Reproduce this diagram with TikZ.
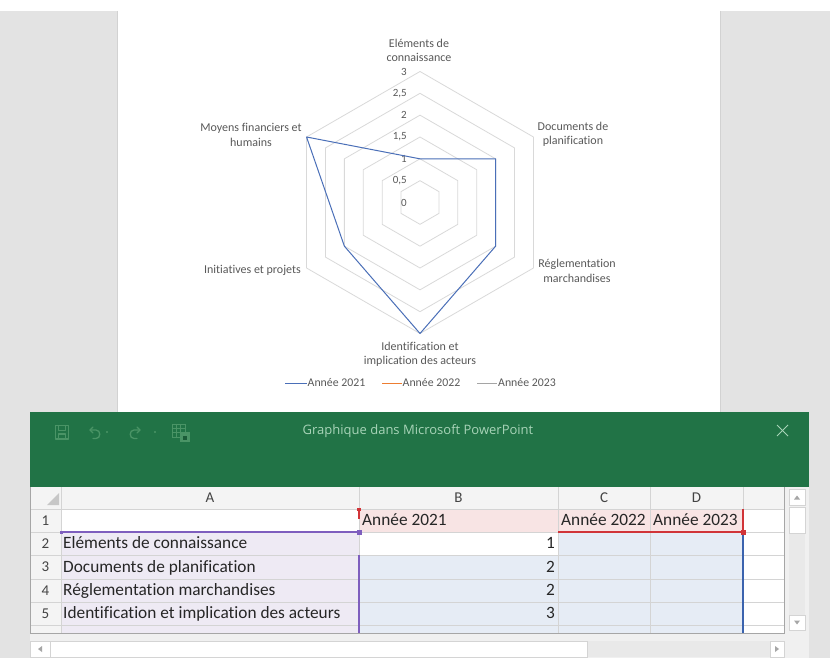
\documentclass[tikz,border=0pt]{standalone}
\usepackage{fontspec}
\setmainfont{Carlito}[Ligatures=NoCommon]
\newfontfamily\titlefont{Open Sans}
\usetikzlibrary{calc}
\definecolor{bggray}{HTML}{E3E3E3}
\definecolor{slideedge}{HTML}{D2D2D2}
\definecolor{gridc}{HTML}{D9D9D9}
\definecolor{sA}{HTML}{4A6FB8}
\definecolor{sB}{HTML}{ED7D31}
\definecolor{sC}{HTML}{A5A5A5}
\definecolor{labc}{HTML}{595959}
\definecolor{xlgreen}{HTML}{217346}
\definecolor{iconc}{HTML}{4A9466}
\definecolor{titlec}{HTML}{A8D4B8}
\definecolor{hdrbg}{HTML}{F4F4F4}
\definecolor{hdrtext}{HTML}{444444}
\definecolor{cellgrid}{HTML}{D4D4D4}
\definecolor{lav}{HTML}{EEEAF4}
\definecolor{pinkc}{HTML}{F8E4E4}
\definecolor{lblue}{HTML}{E6ECF5}
\definecolor{selpurple}{HTML}{7E5EBE}
\definecolor{selred}{HTML}{D13438}
\definecolor{selblue}{HTML}{3B63AE}
\definecolor{track}{HTML}{E9E9E9}
\definecolor{arrowc}{HTML}{A6A6A6}
\definecolor{panelbg}{HTML}{F0F0F0}
\tikzset{
  ring/.style={draw=gridc, line width=0.8pt, line join=round},
  series/.style={draw=sA, line width=1pt, line join=round},
  catlab/.style={text=labc, font=\fontsize{12}{14.5}\selectfont, align=center, inner sep=0pt},
  axlab/.style={text=labc, font=\fontsize{11}{12}\selectfont, inner sep=0pt, anchor=east},
  leglab/.style={text=labc, font=\fontsize{11.8}{13}\selectfont, inner sep=0pt, anchor=west},
  legline/.style={line width=1pt},
  hdr/.style={text=hdrtext, font=\fontsize{15}{16}\selectfont, inner sep=0pt},
  celltxt/.style={text=black!85, font=\fontsize{17.3}{19}\selectfont, inner sep=0pt, text height=13pt, text depth=3pt},
  gline/.style={draw=cellgrid, line width=0.8pt},
  icon/.style={draw=iconc, line width=1.3pt, line cap=round, line join=round},
  scrollbox/.style={fill=white, draw=cellgrid, line width=0.8pt},
  tri/.style={fill=arrowc, draw=none},
}
\begin{document}
\begin{tikzpicture}[x=1pt,y=-1pt]
\useasboundingbox (0,0) rectangle (830,658);
% background
\fill[bggray] (0,0) rectangle (830,658);
\fill[white] (0,0) rectangle (830,11);
\fill[white] (118,0) rectangle (720,412);
\draw[slideedge, line width=1pt] (117.5,11) -- (117.5,412);
\draw[slideedge, line width=1pt] (720.5,11) -- (720.5,412);

% ---------------- radar chart ----------------
\begin{scope}[shift={(420,202.5)}]
  \foreach \v in {0.5,1,1.5,2,2.5,3}{
    \pgfmathsetmacro\r{\v*43.67}
    \draw[ring] (-90:\r) -- (-30:\r) -- (30:\r) -- (90:\r) -- (150:\r) -- (210:\r) -- cycle;
  }
  \node[axlab] (ax0) at (-13,0) {0};
  \node[axlab] (ax1) at (-13,-21.8) {0,5};
  \node[axlab] (ax2) at (-13,-43.7) {1};
  \node[axlab] (ax3) at (-13,-65.5) {1,5};
  \node[axlab] (ax4) at (-13,-87.3) {2};
  \node[axlab] (ax5) at (-13,-109.2) {2,5};
  \node[axlab] (ax6) at (-13,-131) {3};
  \coordinate (d0) at (-90:43.67);
  \coordinate (d1) at (-30:87.33);
  \coordinate (d2) at (30:87.33);
  \coordinate (d3) at (90:131);
  \coordinate (d4) at (150:87.33);
  \coordinate (d5) at (210:131);
  \draw[series] (d0) -- (d1) -- (d2) -- (d3) -- (d4) -- (d5) -- cycle;
\end{scope}

\node[catlab] (c0) at (419,50.5) {Eléments de\\connaissance};
\node[catlab] (c1) at (573,134.5) {Documents de\\planification};
\node[catlab] (c2) at (577,271) {Réglementation\\marchandises};
\node[catlab] (c3) at (420,354.5) {Identification et\\implication des acteurs};
\node[catlab, anchor=east] (c4) at (301,270.5) {Initiatives et projets};
\node[catlab] (c5) at (251,135) {Moyens financiers et\\humains};

% legend
\coordinate (l1a) at (285,383); \coordinate (l1b) at (307,383);
\coordinate (l2a) at (382,383); \coordinate (l2b) at (402,383);
\coordinate (l3a) at (477,383); \coordinate (l3b) at (497,383);
\draw[legline, sA] (l1a) -- (l1b);
\draw[legline, sB] (l2a) -- (l2b);
\draw[legline, sC] (l3a) -- (l3b);
\node[leglab] (lg1) at (307.5,383) {Année 2021};
\node[leglab] (lg2) at (402.5,383) {Année 2022};
\node[leglab] (lg3) at (498,383) {Année 2023};

% ---------------- Excel window ----------------
\fill[xlgreen] (30,412) rectangle (809,487);
\node[text=titlec, font=\titlefont\fontsize{13}{15}\selectfont, inner sep=0pt] (title) at (418,431.5) {Graphique dans Microsoft PowerPoint};
% close X
\coordinate (xa) at (777,425); \coordinate (xb) at (788,436);
\coordinate (xc) at (777,436); \coordinate (xd) at (788,425);
\draw[titlec, line width=1pt] (xa) -- (xb);
\draw[titlec, line width=1pt] (xc) -- (xd);
% save icon
\draw[icon] (55.5,425.5) rectangle (68.5,439);
\draw[icon] (58.5,425.5) rectangle (65.5,430.5);
\draw[icon] (58.5,434) rectangle (65.5,439);
% undo
\draw[icon] (90,430) -- (96,430) .. controls (101,430) and (101,438.5) .. (96,438.5) -- (93,438.5);
\draw[icon] (93,427) -- (90,430) -- (93,433);
\fill[iconc] (107,432) circle (1.1);
% redo
\draw[icon] (140,430) -- (134,430) .. controls (129,430) and (129,438.5) .. (134,438.5) -- (137,438.5);
\draw[icon] (137,427) -- (140,430) -- (137,433);
\fill[iconc] (155,432) circle (1.1);
% table icon
\draw[iconc, line width=1pt] (172.5,424.5) rectangle (185,437);
\foreach \yy in {428.5,432.5}{\draw[iconc, line width=1pt] (172.5,\yy) -- (185,\yy);}
\foreach \xx in {176.7,180.9}{\draw[iconc, line width=1pt] (\xx,424.5) -- (\xx,437);}
\fill[iconc] (179.5,432) rectangle (190,441.5);
\fill[xlgreen!80!black] (183,435.5) rectangle (186.5,439.5);

% sheet panel
\fill[panelbg] (30,487) rectangle (809,658);
% header row / column
\fill[hdrbg] (30,487) rectangle (784,509);
\fill[hdrbg] (30,487) rectangle (61,633);
% cells
\fill[white] (61,509) rectangle (359,532);
\fill[lav] (61,532) rectangle (359,633);
\fill[pinkc] (359,509) rectangle (743,532);
\fill[white] (359,532) rectangle (558,555);
\fill[lblue] (359,555) rectangle (558,633);
\fill[lblue] (558,532) rectangle (743,633);
\fill[white] (743,509) rectangle (784,633);
% gridlines
\foreach \yy in {509,532,555,579,602,625}{\draw[gline] (30,\yy) -- (784,\yy);}
\foreach \xx in {61,359,558,650,743}{\draw[gline] (\xx,487) -- (\xx,633);}
\draw[draw=black!35, line width=0.8pt] (30,487) -- (30,633) -- (784,633) -- (784,487);
% corner triangle
\fill[black!22] (47,505) -- (59,505) -- (59,493) -- cycle;
% column headers
\node[hdr] (hA) at (210,498) {A};
\node[hdr] (hB) at (458.5,498) {B};
\node[hdr] (hC) at (604,498) {C};
\node[hdr] (hD) at (696.5,498) {D};
% row numbers
\node[hdr] (r1) at (45.5,520.5) {1};
\node[hdr] (r2) at (45.5,543.5) {2};
\node[hdr] (r3) at (45.5,567) {3};
\node[hdr] (r4) at (45.5,590.5) {4};
\node[hdr] (r5) at (45.5,613.5) {5};
% cell texts
\node[celltxt, anchor=west] (b1) at (362,520.5) {Année 2021};
\node[celltxt, anchor=west] (c1t) at (561,520.5) {Année 2022};
\node[celltxt, anchor=west] (d1t) at (653,520.5) {Année 2023};
\node[celltxt, anchor=west] (a2) at (63,543.5) {Eléments de connaissance};
\node[celltxt, anchor=west] (a3) at (63,567) {Documents de planification};
\node[celltxt, anchor=west] (a4) at (63,590.5) {Réglementation marchandises};
\node[celltxt, anchor=west] (a5) at (63,613.5) {Identification et implication des acteurs};
\node[celltxt, anchor=east] (b2) at (555,543.5) {1};
\node[celltxt, anchor=east] (b3) at (555,567) {2};
\node[celltxt, anchor=east] (b4) at (555,590.5) {2};
\node[celltxt, anchor=east] (b5) at (555,613.5) {3};
% selection borders
\draw[selpurple, line width=2pt] (61,532) -- (359,532);
\draw[selpurple, line width=2pt] (359,555) -- (359,633);
\fill[selpurple] (59.5,530.5) rectangle (62.5,533.5);
\fill[selpurple] (356.5,529.5) rectangle (361.5,534.5);
\draw[selred, line width=2pt] (558,532) -- (743,532);
\draw[selred, line width=1.6pt] (743,509) -- (743,530);
\draw[selred, line width=2pt] (359,509) -- (359,519);
\fill[selred] (357,508) rectangle (361,511);
\fill[selred] (740.5,529.5) rectangle (745.5,534.5);
\draw[selblue, line width=2pt] (743,535) -- (743,633);

% vertical scrollbar
\fill[track] (789,507) rectangle (805,630);
\draw[scrollbox] (789,489) rectangle (805,505);
\draw[scrollbox] (789,507) rectangle (805,533);
\draw[scrollbox] (789,615) rectangle (805,630);
\fill[tri] (794,499.5) -- (800,499.5) -- (797,495.5) -- cycle;
\fill[tri] (794,620.5) -- (800,620.5) -- (797,624.5) -- cycle;
% horizontal scrollbar
\fill[track] (30,641) rectangle (784,657);
\draw[scrollbox] (30,641) rectangle (50,657);
\draw[scrollbox] (50,641) rectangle (587,657);
\draw[scrollbox] (770,641) rectangle (784,657);
\fill[tri] (42,646) -- (42,652) -- (38,649) -- cycle;
\fill[tri] (775,646) -- (775,652) -- (779,649) -- cycle;
\end{tikzpicture}
\end{document}
